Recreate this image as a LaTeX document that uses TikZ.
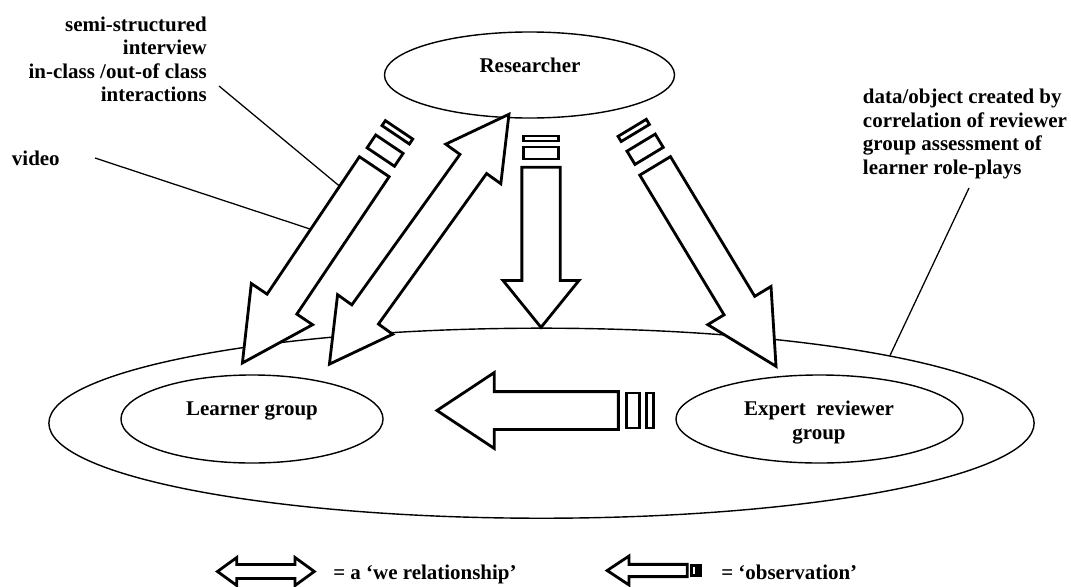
\documentclass[tikz,border=0pt]{standalone}
\usepackage{fontspec}
\setmainfont{Liberation Serif}
\usetikzlibrary{shapes.geometric,shapes.arrows,calc}

\begin{document}
\begin{tikzpicture}[x=0.025cm,y=-0.025cm]
        \tikzstyle{every node}=[inner sep=0pt, font=\fontsize{14.9}{16.7}\selectfont\bfseries, text=black]
        \tikzstyle{group}=[ellipse, draw=black, line width=1pt]
        \tikzstyle{obs}=[single arrow, draw=black, fill=white, line width=2pt, inner xsep=0pt, inner ysep=0.4125cm, single arrow head extend=0.475cm, single arrow tip angle=55]
        \tikzstyle{bar}=[rectangle, draw=black, fill=white, line width=2pt]
        \tikzstyle{we}=[double arrow, draw=black, fill=white, line width=2pt, inner xsep=0pt]
        \tikzstyle{lead}=[black, line width=0.9pt]

        \useasboundingbox (0,0) rectangle (1071,586);

        % groups
        \node[group, minimum width=24.625cm, minimum height=4.75cm] (cls) at (541.5,423.2) {};
        \node[group, minimum width=7.25cm, minimum height=2.15cm] (res) at (529.5,75) {};
        \node[group, minimum width=6.55cm, minimum height=2.2cm] (learn) at (252,419) {};
        \node[group, minimum width=7.175cm, minimum height=2.2cm] (expert) at (819.5,419) {};

        \node (reslbl) at (530,65) {Researcher};
        \node (learnlbl) at (252,410.6) {Learner group};
        \node[align=center] (expertlbl) at (819,422.4) {Expert~~reviewer\\group};

        % side notes
        \node[align=right, anchor=north east] (semilbl) at (207,16.3) {semi-structured\\interview\\in-class /out-of class\\interactions};
        \node[anchor=base west] (videolbl) at (11.7,165) {video};
        \node[align=left, anchor=north west] (datalbl) at (862.7,88.9) {data/object created by\\correlation of reviewer\\group assessment of\\learner role-plays};

        \coordinate (semiA) at (219,86);
        \coordinate (semiB) at (343,189);
        \coordinate (videoA) at (95,158);
        \coordinate (videoB) at (310,229);
        \coordinate (dataA) at (969,188);
        \draw[lead] (semiA) -- (semiB);
        \draw[lead] (videoA) -- (videoB);
        \draw[lead] (dataA) -- (cls.11.7);

        % observation arrows
        \node[obs, rotate=-123.9, minimum height=5.91cm, anchor=tip] (obsL) at (240.7,365.5) {};
        \node[obs, rotate=-58.9, minimum height=5.85cm, anchor=tip] (obsR) at (777.6,368.9) {};
        \node[obs, rotate=-90, minimum height=4cm, inner ysep=0.44375cm, single arrow head extend=0.469cm, single arrow tip angle=78, anchor=tip] (obsM) at (541,329.6) {};
        \node[obs, rotate=180, minimum height=4.535cm, inner ysep=0.4375cm, single arrow head extend=0.475cm, single arrow tip angle=67, anchor=tip] (obsH) at (434.4,410.5) {};

        \node[bar, rotate=-123.9, minimum width=0.3875cm, minimum height=0.825cm] (obsLa) at ($(obsL.tail)!-0.45cm!(obsL.tip)$) {};
        \node[bar, rotate=-123.9, minimum width=0.15cm, minimum height=0.825cm] (obsLb) at ($(obsL.tail)!-1cm!(obsL.tip)$) {};
        \node[bar, rotate=-58.9, minimum width=0.3875cm, minimum height=0.825cm] (obsRa) at ($(obsR.tail)!-0.45cm!(obsR.tip)$) {};
        \node[bar, rotate=-58.9, minimum width=0.15cm, minimum height=0.825cm] (obsRb) at ($(obsR.tail)!-1cm!(obsR.tip)$) {};
        \node[bar, rotate=-90, minimum width=0.3cm, minimum height=0.8875cm] (obsMa) at ($(obsM.tail)!-0.325cm!(obsM.tip)$) {};
        \node[bar, rotate=-90, minimum width=0.125cm, minimum height=0.8875cm] (obsMb) at ($(obsM.tail)!-0.6875cm!(obsM.tip)$) {};
        \node[bar, rotate=180, minimum width=0.34cm, minimum height=0.875cm] (obsHa) at ($(obsH.tail)!-0.33cm!(obsH.tip)$) {};
        \node[bar, rotate=180, minimum width=0.175cm, minimum height=0.875cm] (obsHb) at ($(obsH.tail)!-0.7475cm!(obsH.tip)$) {};

        % we relationship
        \node[we, rotate=54.3, minimum height=7.69cm, inner ysep=0.375cm, double arrow head extend=0.4375cm, double arrow tip angle=58] (weL) at (419.2,239.2) {};

        % key
        \node[we, minimum height=2.42cm, inner ysep=0.14cm, double arrow head extend=0.175cm, double arrow tip angle=72] (weKey) at (265.9,571.5) {};
        \node[obs, rotate=180, minimum height=2cm, inner ysep=0.1175cm, single arrow head extend=0.2075cm, single arrow tip angle=67, anchor=tip] (obsKey) at (604.6,570.5) {};
        \node[bar, rotate=180, minimum width=0.1325cm, minimum height=0.235cm] (obsKeya) at ($(obsKey.tail)!-0.1325cm!(obsKey.tip)$) {};
        \node[bar, rotate=180, minimum width=0.0625cm, minimum height=0.235cm] (obsKeyb) at ($(obsKey.tail)!-0.275cm!(obsKey.tip)$) {};

        \node[anchor=base west] (welbl) at (333,579.5) {= a ‘we relationship’};
        \node[anchor=base west] (obslbl) at (721,579) {= ‘observation’};
\end{tikzpicture}
\end{document}
